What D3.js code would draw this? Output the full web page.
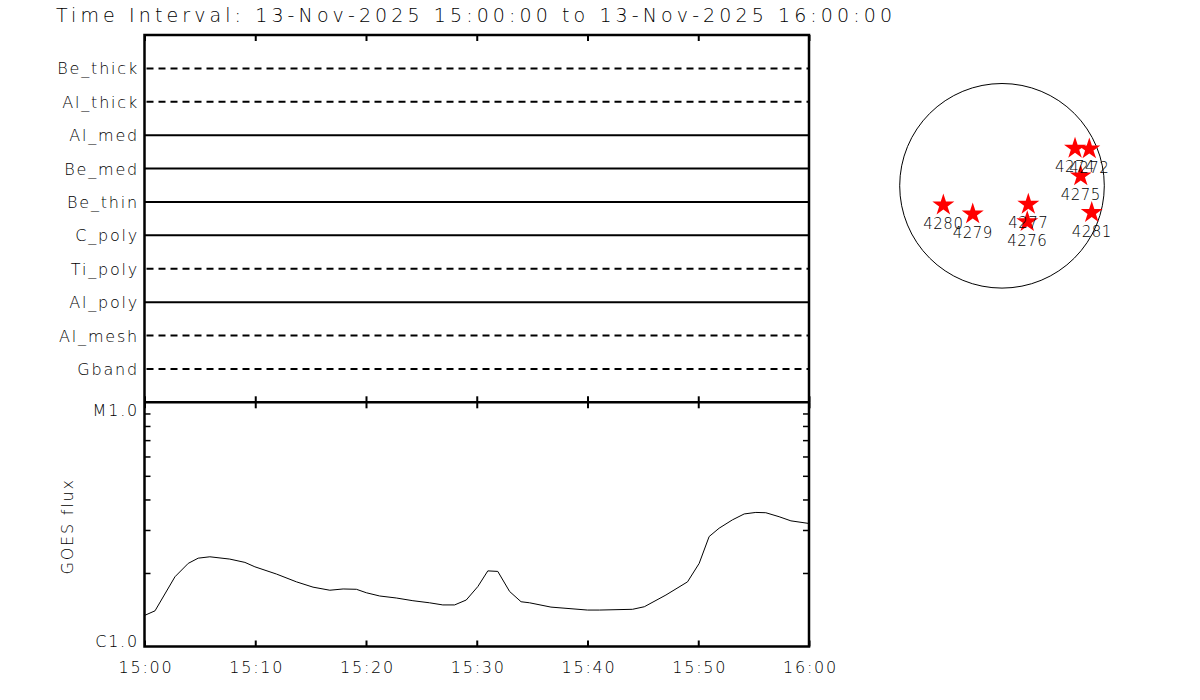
<!doctype html>
<html>
<head>
<meta charset="utf-8">
<title>time interval</title>
<script src="https://d3js.org/d3.v7.min.js"></script>
<style>
  body { margin:0; background:#fff; }
  text { font-family:"DejaVu Sans", sans-serif; font-size:16px; font-weight:200; fill:#000; letter-spacing:1.8px; }
</style>
</head>
<body>
<svg></svg>
<script>

var w = 1200, h = 700;

var title = 'Time Interval: 13-Nov-2025 15:00:00 to 13-Nov-2025 16:00:00';

// filter rows, top to bottom
var rowLabels = ['Be_thick','Al_thick','Al_med','Be_med','Be_thin','C_poly','Ti_poly','Al_poly','Al_mesh','Gband'];
var rowStatus = ['off','off','on','on','on','on','off','on','off','off'];

// GOES flux, minutes after 15:00, in units of 1e-6 W/m2
var goesMinutes = [0, 0.95, 2.75, 3.95, 4.85, 5.9, 7.7, 9.06, 9.96, 11.92, 13.72, 15.22, 16.73, 17.93, 19.13,
                   20.04, 21.24, 22.74, 24.24, 25.74, 26.94, 28.0, 29.05, 30.1, 31.0, 31.9, 32.96, 34.0, 34.76,
                   36.7, 40.0, 41.06, 44.07, 45.13, 47.09, 49.03, 50.09, 50.99, 51.89, 53.09, 54.15, 55.2,
                   56.1, 57.3, 58.36, 60];
var goesFlux = [1.34, 1.40, 1.93, 2.19, 2.30, 2.33, 2.28, 2.21, 2.12, 1.98, 1.84, 1.75, 1.70, 1.72, 1.715,
                1.66, 1.61, 1.58, 1.54, 1.51, 1.48, 1.48, 1.55, 1.76, 2.04, 2.03, 1.68, 1.525, 1.51,
                1.45, 1.41, 1.41, 1.42, 1.455, 1.625, 1.84, 2.19, 2.82, 3.05, 3.30, 3.49, 3.54,
                3.53, 3.40, 3.27, 3.19];
var fluxTicks = ['C1.0', 'M1.0'];

// active regions, solar x / y in arcsec
var regionNums = ['4280','4279','4277','4276','4274','4272','4275','4281'];
var regionX = [-555, -277, 249, 239, 691, 826, 745, 849];
var regionY = [-182, -267, -175, -340, 355, 348, 93, -254];
var rSun = 968;

var t0 = new Date(2025, 10, 13, 15, 0, 0),
    t1 = new Date(2025, 10, 13, 16, 0, 0);

var left = 144.5, right = 809,
    top1 = 35, mid = 402.3, bot = 646.5;

var svg = d3.select('svg').attr('width', w).attr('height', h);

var x = d3.scaleTime().domain([t0, t1]).range([left, right]);
var yRow = d3.scaleLinear().domain([0, rowLabels.length + 1]).range([top1, mid]);
var yFlux = d3.scaleLog().domain([1e-6, 1e-5]).range([bot, mid]);

svg.append('text')
    .attr('x', 56).attr('y', 22)
    .attr('textLength', 836).attr('lengthAdjust', 'spacing')
    .style('font-size', '19px')
    .style('letter-spacing', '0px')
    .text(title);

// ---- top panel: filter rows
var rows = svg.append('g');
rows.selectAll('line')
    .data(rowLabels)
    .enter()
    .append('line')
    .attr('x1', x(t0)).attr('x2', x(t1))
    .attr('y1', function(d, i){ return yRow(i + 1); })
    .attr('y2', function(d, i){ return yRow(i + 1); })
    .attr('stroke', '#000')
    .attr('stroke-width', 2)
    .attr('stroke-dasharray', function(d, i){ return rowStatus[i] == 'off' ? '7,5' : null; })
    .attr('stroke-dashoffset', -2);

rows.selectAll('text')
    .data(rowLabels)
    .enter()
    .append('text')
    .attr('x', 139)
    .attr('y', function(d, i){ return yRow(i + 1) + 6; })
    .attr('text-anchor', 'end')
    .text(function(d){ return d; });

// ---- bottom panel: GOES
var line = d3.line()
    .x(function(d, i){ return x(d3.timeSecond.offset(t0, Math.round(goesMinutes[i] * 60))); })
    .y(function(d){ return yFlux(d * 1e-6); });

svg.append('path')
    .datum(goesFlux)
    .attr('d', line)
    .attr('fill', 'none')
    .attr('stroke', '#000')
    .attr('stroke-width', 1);

// ---- time axes
function timeTicks(y, dir) {
    var g = svg.append('g').attr('transform', 'translate(0,' + y + ')');
    g.call(d3.axisBottom(x).ticks(d3.timeMinute.every(2)).tickSize(4 * dir).tickFormat(''));
    g.call(d3.axisBottom(x).ticks(d3.timeMinute.every(10)).tickSize(6 * dir).tickFormat(''));
    g.selectAll('.domain').remove();
    g.selectAll('line').attr('stroke', '#000').attr('stroke-width', 2);
}
timeTicks(top1, 1);
timeTicks(mid, -1);
timeTicks(mid, 1);
timeTicks(bot, -1);

var xLabels = svg.append('g').attr('transform', 'translate(0,' + bot + ')')
    .call(d3.axisBottom(x).ticks(d3.timeMinute.every(10)).tickSize(0).tickPadding(12)
        .tickFormat(d3.timeFormat('%H:%M')));
xLabels.select('.domain').remove();
xLabels.selectAll('text').attr('font-family', null).attr('font-size', null)
    .attr('dy', null).attr('y', 26).attr('dx', 1);

// flux axes
var fluxMinor = d3.range(2, 10).map(function(v){ return v * 1e-6; });
var fl = svg.append('g').attr('transform', 'translate(' + left + ',0)')
    .call(d3.axisRight(yFlux).tickValues(fluxMinor).tickSize(6).tickFormat(''));
var fr = svg.append('g').attr('transform', 'translate(' + right + ',0)')
    .call(d3.axisLeft(yFlux).tickValues(fluxMinor).tickSize(6).tickFormat(''));
[fl, fr].forEach(function(g){
    g.select('.domain').remove();
    g.selectAll('line').attr('stroke', '#000').attr('stroke-width', 1.5);
});

svg.append('text').attr('x', 139).attr('y', mid + 14).attr('text-anchor', 'end').text(fluxTicks[1]);
svg.append('text').attr('x', 139).attr('y', bot).attr('text-anchor', 'end').text(fluxTicks[0]);

svg.append('text')
    .attr('transform', 'translate(73,' + ((mid + bot) / 2 + 2) + ') rotate(-90)')
    .attr('text-anchor', 'middle')
    .text('GOES flux');

// frame
svg.append('path')
    .attr('d', 'M' + left + ',' + top1 + 'H' + right + 'V' + bot + 'H' + left + 'Z' +
               'M' + left + ',' + mid + 'H' + right)
    .attr('fill', 'none')
    .attr('stroke', '#000')
    .attr('stroke-width', 2.5);

// ---- solar disk
var cx = 1002, cy = 185.8, rPx = 102.3;
var sx = d3.scaleLinear().domain([-rSun, rSun]).range([cx - rPx, cx + rPx]);
var sy = d3.scaleLinear().domain([-rSun, rSun]).range([cy + rPx, cy - rPx]);

var disk = svg.append('g');
disk.append('circle')
    .attr('cx', sx(0)).attr('cy', sy(0))
    .attr('r', sx(rSun) - sx(0))
    .attr('fill', 'none')
    .attr('stroke', '#000')
    .attr('stroke-width', 1);

disk.selectAll('path')
    .data(regionNums)
    .enter()
    .append('path')
    .attr('d', d3.symbol().type(d3.symbolStar).size(150))
    .attr('transform', function(d, i){
        return 'translate(' + sx(regionX[i]) + ',' + sy(regionY[i]) + ')';
    })
    .attr('fill', '#ff0000');

disk.selectAll('text')
    .data(regionNums)
    .enter()
    .append('text')
    .attr('x', function(d, i){ return sx(regionX[i]); })
    .attr('y', function(d, i){ return sy(regionY[i]) + 24; })
    .attr('text-anchor', 'middle')
    .style('font-size', '15px')
    .style('letter-spacing', '0.5px')
    .text(function(d){ return d; });

</script>
</body>
</html>
